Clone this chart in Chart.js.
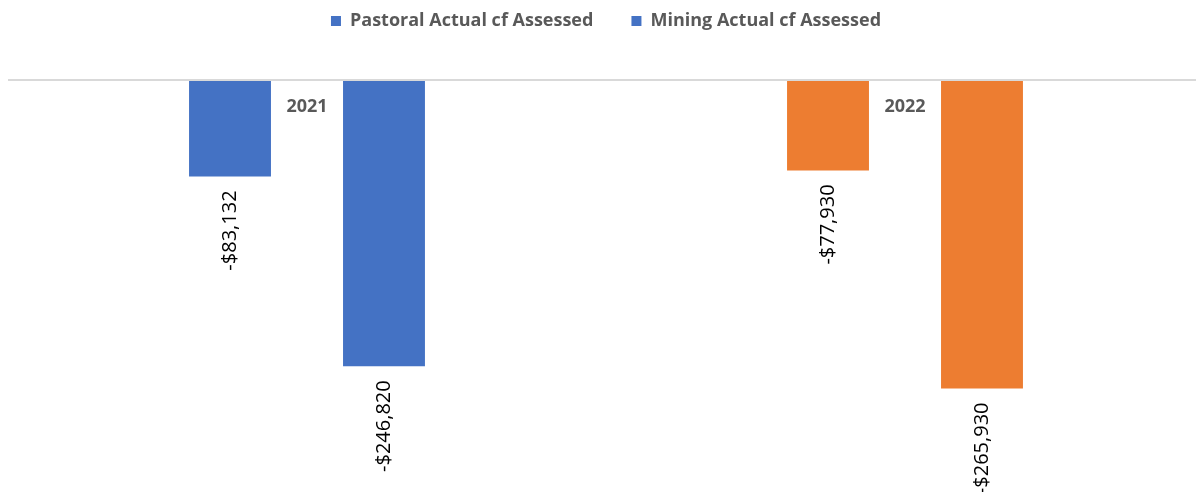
<!DOCTYPE html>
<html>
<head>
<meta charset="utf-8">
<script src="https://cdn.jsdelivr.net/npm/chart.js@4/dist/chart.umd.min.js"></script>
<style>
  html, body { margin: 0; padding: 0; background: #fff; overflow: hidden; }
  #wrap { width: 1204px; height: 492px; position: relative; }
</style>
</head>
<body>
<div id="wrap"><canvas id="chart"></canvas></div>
<script>
// data
const years = ["2021", "2022"];
const pastoral = [-83132, -77930];
const mining = [-246820, -265930];
const seriesNames = ["Pastoral Actual cf Assessed", "Mining Actual cf Assessed"];
const yearColours = ["#4472C4", "#ED7D31"];

function money(v) {
    const s = Math.abs(v).toLocaleString("en-US");
    return (v < 0 ? "-$" : "$") + s;
}

// year labels drawn just under the zero line
const yearLabels = {
    id: "yearLabels",
    afterDatasetsDraw(chart) {
        const ctx = chart.ctx;
        const x = chart.scales.x;
        ctx.save();
        ctx.font = "bold 18px 'Open Sans'";
        ctx.fillStyle = "#595959";
        ctx.textAlign = "center";
        ctx.textBaseline = "middle";
        years.forEach((y, i) => {
            ctx.fillText(y, x.getPixelForValue(i), chart.chartArea.top + 27);
        });
        ctx.restore();
    }
};

// rotated value labels below each bar
const valueLabels = {
    id: "valueLabels",
    afterDatasetsDraw(chart) {
        const ctx = chart.ctx;
        ctx.save();
        ctx.font = "20px 'Open Sans'";
        ctx.fillStyle = "#000";
        ctx.textAlign = "right";
        ctx.textBaseline = "middle";
        chart.data.datasets.forEach((ds, di) => {
            const meta = chart.getDatasetMeta(di);
            meta.data.forEach((bar, i) => {
                ctx.save();
                ctx.translate(bar.x, bar.y + 14);
                ctx.rotate(-Math.PI / 2);
                ctx.fillText(money(ds.data[i]), 0, 0);
                ctx.restore();
            });
        });
        ctx.restore();
    }
};

const ctx = document.getElementById("chart").getContext("2d");
const chart = new Chart(ctx, {
    type: "bar",
    data: {
        labels: years,
        datasets: [
            { label: seriesNames[0] + "      ", data: pastoral, backgroundColor: yearColours },
            { label: seriesNames[1], data: mining, backgroundColor: yearColours }
        ]
    },
    options: {
        responsive: true,
        maintainAspectRatio: false,
        animation: false,
        categoryPercentage: 0.515,
        barPercentage: 0.532,
        layout: { padding: { left: 8, right: 0, top: 2, bottom: 6 } },
        plugins: {
            tooltip: { enabled: false },
            legend: {
                position: "top",
                labels: {
                    boxWidth: 10,
                    boxHeight: 10,
                    padding: 10,
                    color: "#595959",
                    font: { family: "Open Sans", size: 18, weight: "bold" },
                    generateLabels(c) {
                        const items = Chart.defaults.plugins.legend.labels.generateLabels(c);
                        items.forEach(it => {
                            it.fillStyle = "#4472C4";
                            it.strokeStyle = "#4472C4";
                            it.lineWidth = 0;
                        });
                        return items;
                    }
                }
            }
        },
        scales: {
            x: {
                position: "top",
                ticks: { display: false },
                grid: { display: false, drawTicks: false },
                border: { display: false },
                afterFit(s) { s.height = 40; }
            },
            y: {
                min: -350000,
                max: 0,
                ticks: { display: false },
                grid: {
                    drawTicks: false,
                    lineWidth: 2,
                    color: c => (c.tick && c.tick.value === 0 ? "#D9D9D9" : "rgba(0,0,0,0)")
                },
                border: { display: false },
                afterFit(s) { s.width = 0; }
            }
        }
    },
    plugins: [yearLabels, valueLabels]
});
</script>
</body>
</html>
